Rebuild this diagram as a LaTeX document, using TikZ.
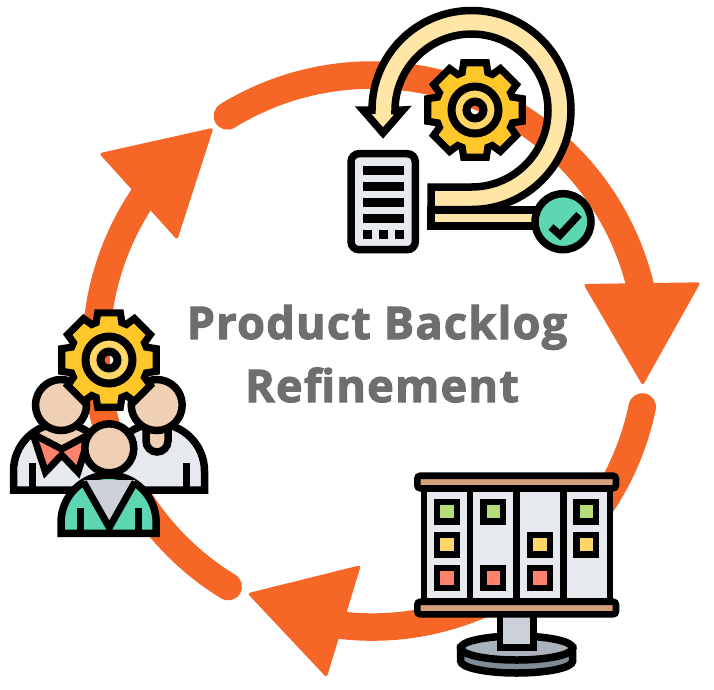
\documentclass[tikz,border=0pt]{standalone}
\usepackage{fontspec}
\newfontfamily\titlefont[BoldFeatures={FakeBold=2.4, LetterSpace=2.9}]{Open Sans}
\usetikzlibrary{positioning}

\definecolor{ringorange}{HTML}{F66727}
\definecolor{titlegrey}{HTML}{6D6E70}
\definecolor{gearyellow}{HTML}{FFC729}
\definecolor{gearlight}{HTML}{FFD766}
\definecolor{loopcream}{HTML}{FFE6A6}
\definecolor{paper}{HTML}{E6E9EE}
\definecolor{mint}{HTML}{5CD6B3}
\definecolor{skin}{HTML}{F0D0B4}
\definecolor{salmon}{HTML}{FF826E}
\definecolor{shirt}{HTML}{CCD0D9}
\definecolor{noteleaf}{HTML}{B4DC78}
\definecolor{wood}{HTML}{D2A07A}
\definecolor{basetop}{HTML}{AAB2BC}
\definecolor{baseside}{HTML}{808C97}

% Gear with an open hole in the middle, #1 is its centre
\newcommand{\drawgear}[1]{
  \begin{scope}[shift={#1}]
    \draw[outline, line width=7.2pt, fill=gearyellow, even odd rule]
      (-13.5:48.5) \foreach \a in {0,45,...,315}{
        -- (\a-13.5:48.5) -- (\a+13.5:48.5) -- (\a+19:39.5) -- (\a+26:39.5)
      } -- cycle
      (0,0) circle (8.5);
    \draw[outline, line width=8pt, fill=gearlight, even odd rule] (0,0) circle (23.5) (0,0) circle (8.5);
  \end{scope}
}

\begin{document}
\begin{tikzpicture}
[x=1pt, y=1pt, yscale=-1,
% STYLES
% The ringarc style is used to draw the orange loop
ringarc/.style={draw=ringorange, line width=27.5pt, line cap=round},
ringhead/.style={fill=ringorange, rounded corners=3pt},
% The outline style is used by every part of the icons
outline/.style={draw=black, line width=7.5pt, line join=miter},
% The note style is used to draw the cards on the board
note/.style={draw=black, line width=6.6pt, minimum size=19.7pt, inner sep=0pt, outer sep=0pt},
title/.style={font=\titlefont\bfseries\fontsize{45}{50}\selectfont, text=titlegrey, anchor=base, inner sep=0pt}]

\useasboundingbox (0,0) rectangle (714,689);

% Draw loop
\begin{scope}[shift={(372,351)}]
  \draw[ringarc] (238.4:276) arc[start angle=238.4, end angle=350, radius=276];
  \draw[ringarc] (11.7:276) arc[start angle=11.7, end angle=100, radius=276];
  \draw[ringarc] (121.4:276) arc[start angle=121.4, end angle=218, radius=276];
\end{scope}
\fill[ringhead] (583.3,284) -- (700.7,282.3) -- (642.7,385.7) -- cycle;
\fill[ringhead] (247.3,593.3) -- (361,565) -- (326.7,677.7) -- cycle;
\fill[ringhead] (213.5,127.7) -- (99,153.3) -- (177.3,240) -- cycle;

% Title
\node[title] (title-top) at (377,339) {Product Backlog};
\node[title] (title-bottom) at (382,402) {Refinement};

% ITERATION ICON
\drawgear{(475,110)}
\draw[outline, fill=loopcream] (431,210) rectangle (540,226);
\draw[outline, fill=loopcream] (431,187) -- (471.5,187)
  arc[start angle=90, end angle=-180, radius=76.5]
  -- (403,110) -- (383,133) -- (363,110) -- (372,110)
  arc[start angle=180, end angle=450, radius=99.5] -- (431,209.5) -- cycle;
\draw[outline, fill=mint] (563,221.7) circle (28);
\draw[draw=black, line width=7.5pt] (551,227) -- (560,235) -- (579,214.5);
% Backlog sheet
\draw[outline, fill=paper, rounded corners=8pt] (351,153.7) rectangle (415.3,249.7);
\foreach \y in {165.7,181.7,197.7,213.7}
  \fill (362.7,\y) rectangle (404,\y+9);
\foreach \x in {362.7,379,395}
  \fill (\x,230) rectangle (\x+9,239);

% BOARD ICON
\draw[outline, fill=baseside] (460.7,648) -- (460.7,661)
  arc[start angle=180, end angle=0, x radius=56, y radius=12] -- (572.7,648) -- cycle;
\draw[outline, fill=basetop] (516.7,648) ellipse [x radius=56, y radius=12];
\draw[outline, line width=6.6pt, fill=shirt] (500,610) rectangle (533.3,647.5);
\fill (420.7,488) rectangle (613.3,602);
\foreach \x in {427.3,473.3,520,566.7}
  \fill[paper] (\x,492) rectangle (\x+40,598.3);
\foreach \y in {475.7,601.7}
  \draw[outline, line width=6.6pt, fill=wood, rounded corners=3pt] (417.3,\y) rectangle (616,\y+12.6);
% Cards, column by column
\foreach \x/\y/\c in {447/511.7/noteleaf, 447/544.7/gearlight, 447/578/salmon,
                      493.3/511.7/noteleaf, 493.3/578/salmon,
                      540/544.7/gearlight, 540/578/salmon,
                      586.3/511.7/noteleaf, 586.3/544.7/gearlight}
  \node[note, fill=\c] (card-\x-\y) at (\x,\y) {};

% TEAM ICON
% Left person
\fill[paper] (13.5,490) -- (13.5,471) arc[start angle=180, end angle=360, radius=47.5] -- (108.5,490) -- cycle;
\fill[skin] (33,428) -- (61.7,449) -- (90,428) -- cycle;
\fill[salmon] (33,434) -- (45.5,472) -- (61.7,452) -- cycle;
\fill[salmon] (90,434) -- (78,472) -- (61.7,452) -- cycle;
\draw[black, line width=7pt] (33,434) -- (61.7,449) -- (90,434);
\draw[black, line width=7pt] (33,434) -- (45.5,472) -- (61.7,455) -- (78,472) -- (90,434);
\draw[outline] (13.5,490) -- (13.5,471) arc[start angle=180, end angle=360, radius=47.5] -- (108.5,490) -- cycle;
\draw[black, line width=7pt] (32,463) -- (32,490);
\draw[outline, fill=skin] (61,405) circle (25.5);
% Right person
\draw[outline, fill=paper] (109.5,490) -- (109.5,471) arc[start angle=180, end angle=360, radius=47.5] -- (204.5,490) -- cycle;
\draw[black, line width=7pt] (186,463) -- (186,490);
\draw[outline, fill=skin] (146,430) -- (146,441) arc[start angle=180, end angle=0, radius=11] -- (168,430);
\draw[outline, fill=skin] (156.7,405) circle (25.5);
\drawgear{(109,360)}
% Front person
\draw[outline, fill=mint] (61,533.3) -- (61,522.6) arc[start angle=180, end angle=360, radius=47.6] -- (156.2,533.3) -- cycle;
\fill[shirt] (84,480) -- (109.3,527) -- (135,480) -- cycle;
\draw[black, line width=7pt] (83.5,482) -- (109.3,527.5) -- (135,482);
\draw[black, line width=7pt] (80,508) -- (80,533.3);
\draw[black, line width=7pt] (138.3,508) -- (138.3,533.3);
\draw[outline, fill=skin] (109.3,448.3) circle (24.5);

\end{tikzpicture}
\end{document}
